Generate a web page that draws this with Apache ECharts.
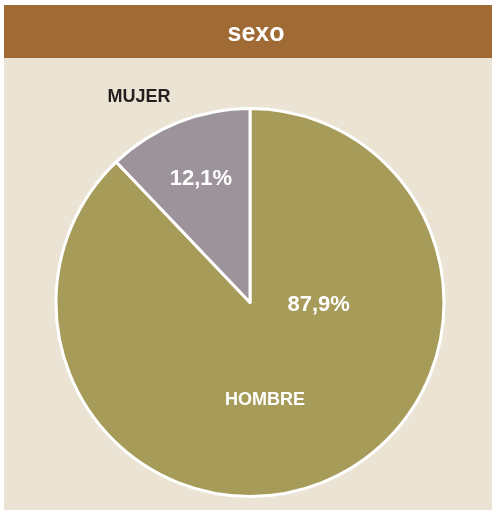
<!DOCTYPE html>
<html>
<head>
<meta charset="utf-8">
<script src="https://cdn.jsdelivr.net/npm/echarts@6/dist/echarts.min.js"></script>
<style>
html,body{margin:0;padding:0;background:#ffffff;}
#chart{width:492px;height:511px;}
</style>
</head>
<body>
<div id="chart"></div>
<script>
var categories = ['HOMBRE', 'MUJER'];
var values = [87.9, 12.1];
var sliceColors = ['#a69b58', '#9c939b'];
var titleText = 'sexo';

var FONT = "'Liberation Sans Narrow', 'Arial Narrow', 'Liberation Sans', Arial, sans-serif";
var pctOffsets = [[31.5, -90.5], [-12, -30.5]];
var nameOffsets = [[-22, 4.5], [-74, -112.5]];
var nameColors = ['#ffffff', '#231f20'];

function fmt(v) { return v.toFixed(1).replace('.', ',') + '%'; }

var chart = echarts.init(document.getElementById('chart'), null, {renderer: 'canvas'});
var common = {
  type: 'pie',
  center: [250, 302.5],
  radius: [0, 194],
  startAngle: 90,
  clockwise: true,
  avoidLabelOverlap: false,
  labelLine: {show: false},
  emphasis: {disabled: true}
};
chart.setOption({
  backgroundColor: '#ffffff',
  animation: false,
  graphic: [
    {type: 'rect', shape: {x: 4, y: 5, width: 488, height: 505}, style: {fill: '#ebe3d3'}, z: -10},
    {type: 'rect', shape: {x: 4, y: 5, width: 488, height: 53}, style: {fill: '#a06a35'}, z: -9}
  ],
  title: {
    text: titleText,
    left: 251,
    top: 29,
    textAlign: 'center',
    textVerticalAlign: 'middle',
    textStyle: {color: '#ffffff', fontFamily: FONT, fontWeight: 'bold', fontSize: 25}
  },
  series: [
    Object.assign({}, common, {
      name: 'pct',
      itemStyle: {borderColor: '#ffffff', borderWidth: 3},
      label: {show: true, position: 'inside', color: '#ffffff', fontFamily: FONT, fontWeight: 'bold', fontSize: 22,
        formatter: function (p) { return fmt(p.value); }},
      data: categories.map(function (c, i) {
        return {name: c, value: values[i], itemStyle: {color: sliceColors[i]}, label: {offset: pctOffsets[i]}};
      })
    }),
    Object.assign({}, common, {
      name: 'names',
      silent: true,
      z: 3,
      itemStyle: {color: 'rgba(0,0,0,0)', borderWidth: 0},
      label: {show: true, position: 'inside', fontFamily: FONT, fontWeight: 'bold', fontSize: 18,
        formatter: function (p) { return p.name; }},
      data: categories.map(function (c, i) {
        return {name: c, value: values[i], label: {offset: nameOffsets[i], color: nameColors[i]}};
      })
    })
  ]
});
</script>
</body>
</html>
